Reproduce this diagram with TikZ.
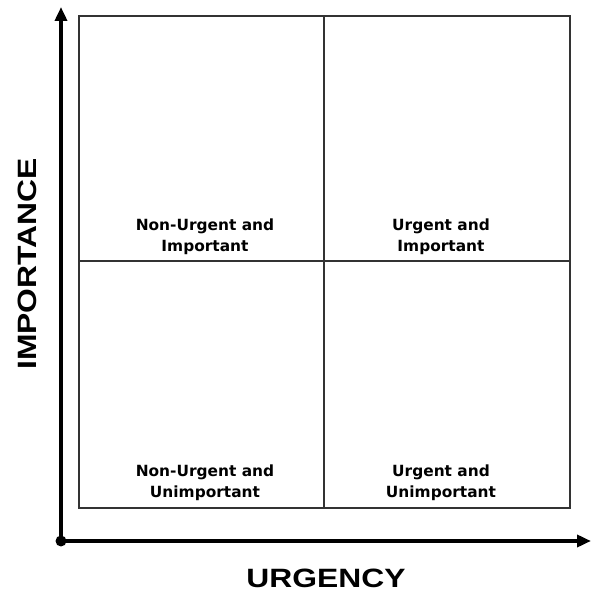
\documentclass[tikz,border=0pt]{standalone}
\usepackage{fontspec}
\usetikzlibrary{arrows.meta}
\newfontfamily\labfont[FakeStretch=1.2]{Liberation Sans}
\newfontfamily\quadfont{DejaVu Sans}
\begin{document}
\begin{tikzpicture}[x=1pt,y=1pt,
  axis/.style={line width=3.6pt,-{Triangle[length=14pt,width=12pt]}},
  grid line/.style={line width=1.3pt,draw=black!80},
  quad/.style={align=center,inner sep=0pt,font=\quadfont\bfseries\fontsize{15.4}{20.5}\selectfont},
  axislabel/.style={inner sep=0pt,font=\labfont\bfseries\fontsize{26.5}{30}\selectfont}]
  \useasboundingbox (0,0) rectangle (592,600);
  % frame of the four quadrants
  \draw[grid line] (79,92) rectangle (570,584);
  \draw[grid line] (324,92) -- (324,584);
  \draw[grid line] (79,339) -- (570,339);
  % axes
  \coordinate (O) at (61,59);
  \coordinate (ytip) at (61,593);
  \coordinate (xtip) at (591,59);
  \draw[axis] (O) -- (ytip);
  \draw[axis] (O) -- (xtip);
  \fill (O) circle (5.5pt);
  % quadrant labels
  \node[quad] (ni) at (205,363) {Non-Urgent and\\Important};
  \node[quad] (ui) at (441,363) {Urgent and\\Important};
  \node[quad] (nu) at (205,117) {Non-Urgent and\\Unimportant};
  \node[quad] (uu) at (441,117) {Urgent and\\Unimportant};
  % axis labels
  \node[axislabel] (urg) at (326,22) {URGENCY};
  \node[axislabel,rotate=90] (imp) at (27,336) {IMPORTANCE};
\end{tikzpicture}
\end{document}
